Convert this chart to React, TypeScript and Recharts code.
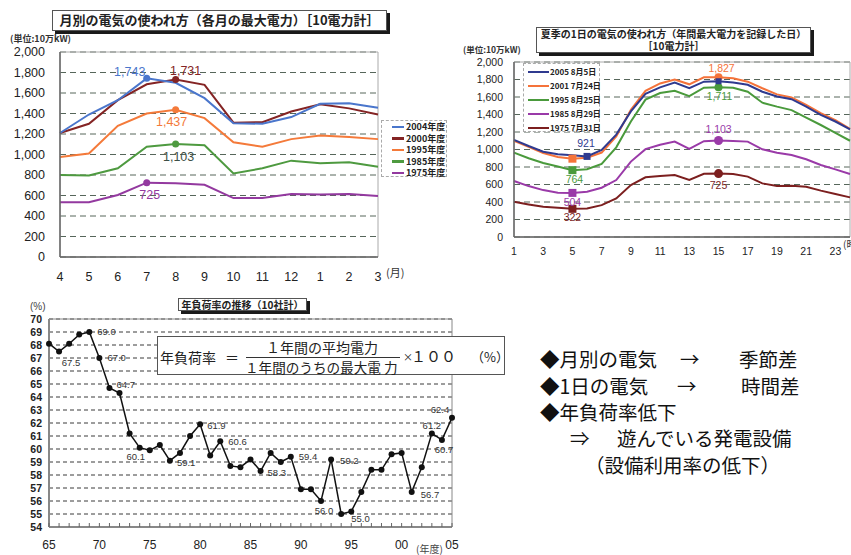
import React from 'react';
import { LineChart, Line, XAxis, YAxis, CartesianGrid, ReferenceArea } from 'recharts';

// ---------- Chart 1: monthly peak demand ----------
const months = ['4', '5', '6', '7', '8', '9', '10', '11', '12', '1', '2', '3'];
const fy2004 = [1210, 1390, 1530, 1743, 1700, 1550, 1305, 1300, 1365, 1495, 1500, 1455];
const fy2000 = [1210, 1300, 1530, 1685, 1731, 1680, 1310, 1315, 1420, 1490, 1450, 1390];
const fy1995 = [975, 1010, 1280, 1400, 1437, 1355, 1120, 1075, 1150, 1185, 1170, 1150];
const fy1985 = [800, 795, 865, 1075, 1103, 1090, 815, 865, 940, 915, 925, 880];
const fy1975 = [535, 535, 605, 725, 720, 705, 575, 575, 615, 610, 615, 595];
const powerTicks = [0, 200, 400, 600, 800, 1000, 1200, 1400, 1600, 1800, 2000];

// ---------- Chart 2: hourly demand on peak day ----------
const hours = ['1', '2', '3', '4', '5', '6', '7', '8', '9', '10', '11', '12', '13', '14', '15', '16', '17', '18', '19', '20', '21', '22', '23', '24'];
const d2005 = [1110, 1040, 975, 945, 935, 921, 995, 1170, 1435, 1635, 1710, 1765, 1700, 1775, 1780, 1765, 1740, 1660, 1605, 1575, 1490, 1395, 1320, 1230];
const d2001 = [1100, 1030, 960, 915, 895, 905, 965, 1150, 1455, 1670, 1755, 1800, 1745, 1825, 1827, 1815, 1775, 1700, 1630, 1595, 1510, 1415, 1335, 1235];
const d1995 = [965, 900, 845, 805, 764, 775, 835, 1025, 1320, 1570, 1645, 1672, 1610, 1707, 1711, 1705, 1660, 1535, 1490, 1450, 1365, 1280, 1190, 1100];
const d1985 = [640, 582, 536, 506, 504, 517, 563, 651, 862, 1004, 1054, 1090, 1006, 1095, 1103, 1098, 1090, 1002, 964, 937, 888, 823, 773, 720];
const d1975 = [402, 372, 345, 333, 322, 326, 364, 441, 594, 682, 697, 709, 651, 722, 725, 720, 690, 613, 583, 587, 575, 530, 491, 453];

// ---------- Chart 3: annual load factor ----------
const years = [1965, 1966, 1967, 1968, 1969, 1970, 1971, 1972, 1973, 1974, 1975, 1976, 1977, 1978, 1979, 1980, 1981, 1982, 1983, 1984, 1985, 1986, 1987, 1988, 1989, 1990, 1991, 1992, 1993, 1994, 1995, 1996, 1997, 1998, 1999, 2000, 2001, 2002, 2003, 2004, 2005];
const loadFactor = [68.1, 67.5, 68.1, 68.8, 69.0, 67.0, 64.7, 64.3, 61.2, 60.1, 59.9, 60.3, 59.1, 59.7, 61.0, 61.9, 59.5, 60.6, 58.7, 58.6, 59.2, 58.3, 59.7, 59.0, 59.4, 56.9, 56.9, 56.0, 59.2, 55.0, 55.2, 56.7, 58.4, 58.4, 59.6, 59.7, 56.7, 58.6, 61.2, 60.7, 62.4];
const yearLabelTicks = [1965, 1970, 1975, 1980, 1985, 1990, 1995, 2000, 2005];
const lfTicks = [54, 55, 56, 57, 58, 59, 60, 61, 62, 63, 64, 65, 66, 67, 68, 69, 70];
const labeledYears = [1966, 1969, 1970, 1971, 1974, 1977, 1980, 1982, 1986, 1989, 1992, 1993, 1994, 2001, 2003, 2004, 2005];

const NUM = "'Liberation Sans', Arial, sans-serif";
const JP = "'Noto Sans CJK JP', sans-serif";

const monthlyData = months.map((m, i) => ({
  month: m, y2004: fy2004[i], y2000: fy2000[i], y1995: fy1995[i], y1985: fy1985[i], y1975: fy1975[i],
}));
const hourlyData = hours.map((h, i) => ({
  hour: h, d2005: d2005[i], d2001: d2001[i], d1995: d1995[i], d1985: d1985[i], d1975: d1975[i],
}));
const lfData = years.map((y, i) => ({ year: y, lf: loadFactor[i] }));

const monthlySeries = [
  { key: 'y2004', name: '2004年度', color: '#4a76cc' },
  { key: 'y2000', name: '2000年度', color: '#842424' },
  { key: 'y1995', name: '1995年度', color: '#f47a3a' },
  { key: 'y1985', name: '1985年度', color: '#4e9a40' },
  { key: 'y1975', name: '1975年度', color: '#93399f' },
];
const hourlySeries = [
  { key: 'd2005', name: '2005 8月5日', color: '#2f3a8f' },
  { key: 'd2001', name: '2001 7月24日', color: '#f5733a' },
  { key: 'd1995', name: '1995 8月25日', color: '#4a9a3c' },
  { key: 'd1985', name: '1985 8月29日', color: '#9a3aa8' },
  { key: 'd1975', name: '1975 7月31日', color: '#7c1f1f' },
];

type Mark = { i: number; shape: 'circle' | 'square' | 'none'; size: number; label?: boolean; dx?: number; dy?: number; labelColor?: string };

function markerDot(key: string, color: string, marks: Mark[], fontSize: number) {
  return (p: any) => {
    const m = marks.find((mm) => mm.i === p.index);
    if (!m || p.cx == null || p.cy == null) return <g key={`${key}-${p.index}`} />;
    const v = p.payload[key];
    return (
      <g key={`${key}-${p.index}`}>
        {m.shape === 'circle' && <circle cx={p.cx} cy={p.cy} r={m.size} fill={color} />}
        {m.shape === 'square' && <rect x={p.cx - m.size} y={p.cy - m.size} width={m.size * 2} height={m.size * 2} fill={color} />}
        {m.label && (
          <text x={p.cx + (m.dx || 0)} y={p.cy + (m.dy || 0)} dy="0.35em" textAnchor="middle" fill={m.labelColor || color} fontSize={fontSize} fontFamily={NUM}>
            {Number(v).toLocaleString('en-US')}
          </text>
        )}
      </g>
    );
  };
}

const monthlyMarks: Record<string, Mark[]> = {
  y2004: [{ i: 3, shape: 'circle', size: 3.5, label: true, dx: -17, dy: -7 }],
  y2000: [{ i: 4, shape: 'circle', size: 3.5, label: true, dx: 10, dy: -9 }],
  y1995: [{ i: 4, shape: 'circle', size: 3.5, label: true, dx: -4, dy: 12 }],
  y1985: [{ i: 4, shape: 'circle', size: 3.5, label: true, dx: 3, dy: 13, labelColor: '#3d4f46' }],
  y1975: [{ i: 3, shape: 'circle', size: 3.5, label: true, dx: 3, dy: 12 }],
};
const hourlyMarks: Record<string, Mark[]> = {
  d2005: [{ i: 5, shape: 'square', size: 3.5, label: true, dx: -1, dy: -13 }, { i: 14, shape: 'square', size: 3, label: false }],
  d2001: [{ i: 4, shape: 'square', size: 4 }, { i: 14, shape: 'circle', size: 4, label: true, dx: 3, dy: -9 }],
  d1995: [{ i: 4, shape: 'square', size: 4, label: true, dx: 2, dy: 9 }, { i: 14, shape: 'circle', size: 4, label: true, dx: 1, dy: 9 }],
  d1985: [{ i: 4, shape: 'square', size: 4, label: true, dx: 0, dy: 9 }, { i: 14, shape: 'circle', size: 4.5, label: true, dx: 0, dy: -11 }],
  d1975: [{ i: 4, shape: 'square', size: 4, label: true, dx: 0, dy: 8 }, { i: 14, shape: 'circle', size: 4.5, label: true, dx: 0, dy: 12 }],
};

const lfLabelPlace: Record<number, [number, number, 'start' | 'middle' | 'end']> = {
  1966: [12, 11, 'middle'], 1969: [8, 0, 'start'], 1970: [8, 0, 'start'], 1971: [7, -3, 'start'],
  1974: [-4, 9, 'middle'], 1977: [7, 2, 'start'], 1980: [7, 1, 'start'], 1982: [8, 0, 'start'],
  1986: [7, 2, 'start'], 1989: [8, 0, 'start'], 1992: [3, 10, 'middle'], 1993: [9, 1, 'start'],
  1994: [10, 5, 'start'], 2001: [9, 3, 'start'], 2003: [0, -8, 'middle'], 2004: [2, 10, 'middle'],
  2005: [-12, -8, 'middle'],
};

const lfDot = (p: any) => {
  if (p.cx == null || p.cy == null) return <g key={`lf-${p.index}`} />;
  const yr = p.payload.year;
  const place = labeledYears.includes(yr) ? lfLabelPlace[yr] : null;
  return (
    <g key={`lf-${p.index}`}>
      <circle cx={p.cx} cy={p.cy} r={3} fill="#111" />
      {place && (
        <text x={p.cx + place[0]} y={p.cy + place[1]} dy="0.35em" textAnchor={place[2]} fontSize={9.5} fill="#333" fontFamily={NUM}>
          {Number(p.payload.lf).toFixed(1)}
        </text>
      )}
    </g>
  );
};

const yTick = (off: number, fs: number, fmt: (v: number) => string, weight: any = 'normal') => (p: any) => (
  <text x={p.x - off} y={p.y} dy="0.35em" textAnchor="end" fontSize={fs} fill="#222" fontFamily={NUM} fontWeight={weight}>
    {fmt(p.payload.value)}
  </text>
);
const xTick = (off: number, fs: number) => (p: any) => (
  <text x={p.x} y={p.y + off} dy="0.35em" textAnchor="middle" fontSize={fs} fill="#222" fontFamily={NUM}>
    {p.payload.value}
  </text>
);
const yearTick = (p: any) => {
  const v = p.payload.value;
  return (
    <g>
      <line x1={p.x} y1={p.y} x2={p.x} y2={p.y - 4} stroke="#666" strokeWidth={1} />
      {yearLabelTicks.includes(v) && (
        <text x={p.x} y={p.y + 18} dy="0.35em" textAnchor="middle" fontSize={12} fill="#222" fontFamily={NUM}>
          {String(v % 100).padStart(2, '0')}
        </text>
      )}
    </g>
  );
};

const fmtComma = (v: number) => v.toLocaleString('en-US');

const abs = (left: number, top: number, extra: React.CSSProperties = {}): React.CSSProperties => ({ position: 'absolute', left, top, ...extra });

function TitleBox({ left, top, width, height, children, fontSize, lineHeight }: any) {
  return (
    <div style={abs(left, top, {
      width, height, border: '1px solid #555', boxShadow: '3px 3px 0 #1a1a1a', background: '#fff',
      display: 'flex', flexDirection: 'column', alignItems: 'center', justifyContent: 'center',
      fontFamily: JP, fontWeight: 'bold', fontSize, color: '#222', lineHeight: lineHeight || 1.15, boxSizing: 'border-box', whiteSpace: 'nowrap',
    })}>
      {children}
    </div>
  );
}

function LegendBox({ left, top, width, height, series, rowTop, rowGap, lineX, lineW, textX, fontSize, lineWidth }: any) {
  return (
    <div style={abs(left, top, { width, height, border: '1px dashed #aaa', boxSizing: 'border-box', background: '#fff' })}>
      {series.map((s: any, i: number) => (
        <div key={s.key} style={abs(0, rowTop + i * rowGap - 6, { width: width, height: 12 })}>
          <div style={abs(lineX, 6 - lineWidth / 2, { width: lineW, height: lineWidth, background: s.color })} />
          <div style={abs(textX, 0, { height: 12, lineHeight: '12px', fontSize, fontFamily: JP, color: '#222', whiteSpace: 'nowrap', fontWeight: 'bold' })}>{s.name}</div>
        </div>
      ))}
    </div>
  );
}

const bigText: React.CSSProperties = { fontFamily: JP, fontSize: 19.5, color: '#111', whiteSpace: 'pre', lineHeight: '20px', height: 20 };

export default function App() {
  return (
    <div style={{ position: 'absolute', left: 0, top: 0, width: 851, height: 555, background: '#fff', overflow: 'hidden' }}>
      {/* Chart 1 */}
      <div style={abs(0, 0)}>
        <LineChart width={460} height={290} data={monthlyData} margin={{ top: 52, right: 82, bottom: 3, left: 10 }}>
          <CartesianGrid vertical={false} stroke="#56665a" strokeDasharray="6 4" />
          <ReferenceArea y1={0} y2={2000} fill="none" fillOpacity={0} stroke="#aaa" strokeWidth={1} />
          <XAxis dataKey="month" interval={0} height={30} tickLine={false} tickSize={0} tickMargin={0} axisLine={{ stroke: '#666', strokeWidth: 1.5 }} tick={xTick(20, 12.5)} />
          <YAxis width={50} domain={[0, 2000]} ticks={powerTicks} interval={0} tickLine={false} tickSize={0} tickMargin={0} axisLine={{ stroke: '#666', strokeWidth: 1.5 }} tick={yTick(15, 12.5, fmtComma)} />
          {[...monthlySeries].reverse().map((s) => (
            <Line key={s.key} type="linear" dataKey={s.key} stroke={s.color} strokeWidth={2} isAnimationActive={false}
              dot={markerDot(s.key, s.color, monthlyMarks[s.key], 12.5)} activeDot={false} />
          ))}
        </LineChart>
      </div>
      <TitleBox left={52} top={10} width={335} height={21} fontSize={13}>月別の電気の使われ方（各月の最大電力）［10電力計］</TitleBox>
      <div style={abs(10, 32, { fontFamily: JP, fontSize: 9, fontWeight: 'bold', color: '#333', whiteSpace: 'nowrap' })}>(単位:10万kW)</div>
      <div style={abs(386, 264, { fontFamily: JP, fontSize: 11, color: '#333', whiteSpace: 'nowrap' })}>(月)</div>
      <LegendBox left={381} top={120} width={66} height={57} series={monthlySeries} rowTop={6} rowGap={11.5} lineX={10} lineW={12} textX={24} fontSize={9} lineWidth={2.5} />

      {/* Chart 2 */}
      <div style={abs(460, 0)}>
        <LineChart width={391} height={270} data={hourlyData} margin={{ top: 62, right: 1, bottom: 5, left: 10 }}>
          <CartesianGrid vertical={false} stroke="#56665a" strokeDasharray="6 4" />
          <ReferenceArea y1={0} y2={2000} fill="none" fillOpacity={0} stroke="#aaa" strokeWidth={1} />
          <XAxis dataKey="hour" interval={1} height={28} tickLine={false} tickSize={0} tickMargin={0} axisLine={{ stroke: '#666', strokeWidth: 1.5 }} tick={xTick(14, 10.5)} />
          <YAxis width={44} domain={[0, 2000]} ticks={powerTicks} interval={0} tickLine={false} tickSize={0} tickMargin={0} axisLine={{ stroke: '#666', strokeWidth: 1.5 }} tick={yTick(11, 10.5, fmtComma)} />
          {[...hourlySeries].reverse().map((s) => (
            <Line key={s.key} type="linear" dataKey={s.key} stroke={s.color} strokeWidth={2} isAnimationActive={false}
              dot={markerDot(s.key, s.color, hourlyMarks[s.key], 10.5)} activeDot={false} />
          ))}
        </LineChart>
      </div>
      <TitleBox left={536} top={27} width={275} height={26} fontSize={10} lineHeight="12px">
        <div>夏季の1日の電気の使われ方（年間最大電力を記録した日）</div>
        <div>［10電力計］</div>
      </TitleBox>
      <div style={abs(463, 43, { fontFamily: JP, fontSize: 8.5, fontWeight: 'bold', color: '#333', whiteSpace: 'nowrap' })}>(単位:10万kW)</div>
      <div style={abs(843, 236, { fontFamily: JP, fontSize: 10, color: '#333', whiteSpace: 'nowrap' })}>(時)</div>
      <LegendBox left={523} top={63} width={77} height={69} series={hourlySeries} rowTop={8} rowGap={14} lineX={4} lineW={21} textX={26} fontSize={8} lineWidth={2} />

      {/* Chart 3 */}
      <div style={abs(0, 290)}>
        <LineChart width={470} height={265} data={lfData} margin={{ top: 29, right: 18, bottom: 3, left: 9 }}>
          <CartesianGrid vertical={false} stroke="#3a3a3a" strokeDasharray="4 3" />
          <ReferenceArea y1={54} y2={70} fill="none" fillOpacity={0} stroke="#888" strokeWidth={1} />
          <XAxis dataKey="year" type="number" domain={[1965, 2005]} ticks={years} interval={0} height={25} tickLine={false} tickSize={0} tickMargin={0} axisLine={{ stroke: '#888', strokeWidth: 2 }} tick={yearTick} />
          <YAxis width={40} domain={[54, 70]} ticks={lfTicks} interval={0} tickLine={false} tickSize={0} tickMargin={0} axisLine={{ stroke: '#888', strokeWidth: 2 }} tick={yTick(7, 10.5, (v) => String(v), 'bold')} />
          <Line type="linear" dataKey="lf" stroke="#111" strokeWidth={1.5} isAnimationActive={false} dot={lfDot} activeDot={false} />
        </LineChart>
      </div>
      <TitleBox left={178} top={298} width={129} height={13} fontSize={10}>年負荷率の推移（10社計）</TitleBox>
      <div style={abs(30, 301, { fontFamily: NUM, fontSize: 10, color: '#444', whiteSpace: 'nowrap' })}>(%)</div>
      <div style={abs(416, 543, { fontFamily: JP, fontSize: 10, color: '#444', whiteSpace: 'nowrap', lineHeight: '12px' })}>(年度)</div>

      {/* Formula box */}
      <div style={abs(157, 336, { width: 348, height: 39, border: '1px solid #555', background: '#fff', boxSizing: 'border-box' })} />
      <div style={abs(160, 348, { fontFamily: JP, fontSize: 14, color: '#222', whiteSpace: 'nowrap', lineHeight: '18px' })}>年負荷率</div>
      <div style={abs(225, 348, { fontFamily: JP, fontSize: 14, color: '#222', whiteSpace: 'nowrap', lineHeight: '18px' })}>＝</div>
      <div style={abs(266, 338, { fontFamily: JP, fontSize: 14, color: '#222', whiteSpace: 'nowrap', lineHeight: '18px' })}>１年間の平均電力</div>
      <div style={abs(246, 357, { width: 154, height: 1, background: '#333' })} />
      <div style={abs(245, 359, { fontFamily: JP, fontSize: 13.6, color: '#222', whiteSpace: 'pre', lineHeight: '16px' })}>１年間のうちの最大電 力</div>
      <div style={abs(403, 349, { fontFamily: JP, fontSize: 10, color: '#222', whiteSpace: 'nowrap', lineHeight: '16px' })}>×</div>
      <div style={abs(411, 346, { fontFamily: JP, fontSize: 15, color: '#222', whiteSpace: 'nowrap', lineHeight: '20px' })}>１００</div>
      <div style={abs(471, 348, { fontFamily: JP, fontSize: 13, color: '#222', whiteSpace: 'nowrap', lineHeight: '18px' })}>（%）</div>

      {/* Right text block */}
      <div style={abs(540, 349, bigText)}>◆月別の電気</div>
      <div style={abs(680, 349, bigText)}>→</div>
      <div style={abs(739, 349, bigText)}>季節差</div>
      <div style={abs(540, 376, bigText)}>◆1日の電気</div>
      <div style={abs(677, 376, bigText)}>→</div>
      <div style={abs(741, 376, bigText)}>時間差</div>
      <div style={abs(540, 402, bigText)}>◆年負荷率低下</div>
      <div style={abs(570, 428, bigText)}>⇒</div>
      <div style={abs(617, 428, bigText)}>遊んでいる発電設備</div>
      <div style={abs(585, 455, bigText)}>（設備利用率の低下）</div>
    </div>
  );
}
